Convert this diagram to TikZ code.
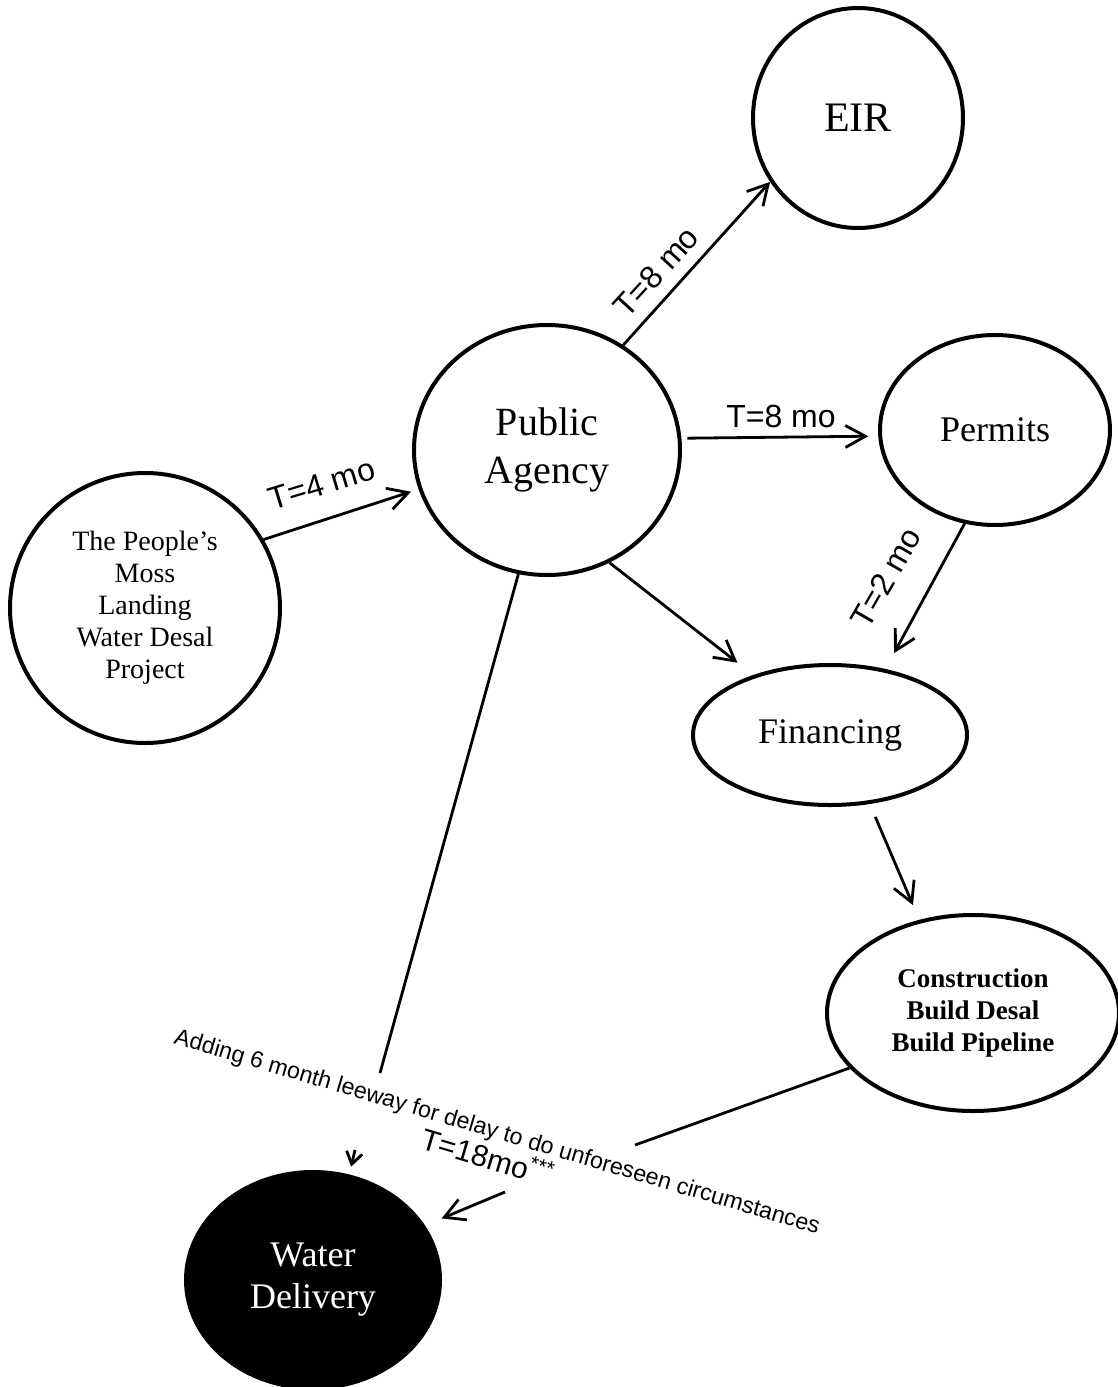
\documentclass[tikz,border=0pt]{standalone}
\usepackage{fontspec}
\setmainfont{Liberation Serif}
\setsansfont{Liberation Sans}
\usetikzlibrary{shapes.geometric,arrows.meta}
\tikzset{
  bubble/.style={ellipse, draw, line width=2pt, inner sep=0pt, align=center},
  arr/.style={line width=1.4pt, -{Straight Barb[length=10pt,width=11pt,line width=1.4pt]}},
  plain/.style={line width=1.4pt},
  lbl/.style={font=\sffamily\fontsize{16}{18}\selectfont, inner sep=1pt},
}
\begin{document}
\begin{tikzpicture}[x=0.5pt,y=-0.5pt]
\useasboundingbox (0,0) rectangle (1118,1387);
\fill[white] (0,0) rectangle (1118,1387);

\node[bubble, minimum width=105pt, minimum height=110pt, font=\fontsize{21}{24}\selectfont] (eir) at (858,118) {EIR};
\node[bubble, minimum width=133pt, minimum height=125pt, font=\fontsize{20}{24}\selectfont] (pa) at (547,450) {Public\\Agency};
\node[bubble, minimum width=115pt, minimum height=95pt, font=\fontsize{18}{21}\selectfont] (perm) at (995,430) {Permits};
\node[bubble, minimum width=135pt, minimum height=135pt, font=\fontsize{14}{16}\selectfont] (ppl) at (145,608) {The People’s\\Moss\\Landing\\Water Desal\\Project};
\node[bubble, minimum width=137pt, minimum height=70pt, font=\fontsize{18}{21}\selectfont] (fin) at (830,735) {Financing};
\node[bubble, minimum width=146pt, minimum height=98pt, font=\bfseries\fontsize{13.5}{16}\selectfont] (con) at (973,1013) {Construction\\Build Desal\\Build Pipeline};
\node[bubble, fill=black, text=white, minimum width=127pt, minimum height=108pt, font=\fontsize{18}{21}\selectfont] (wd) at (313,1280) {Water\\Delivery};

\coordinate (g1) at (380,1073);
\coordinate (g2) at (355,1150);
\coordinate (g4) at (635,1145);
\coordinate (g5) at (505,1192);

\draw[arr, shorten >=4pt] (ppl.30.6) -- (pa.197);
\draw[arr] (pa.54) -- (eir.216.8);
\draw[arr, shorten <=3pt, shorten >=5pt] (pa.5) -- (perm.183.7);
\draw[arr, shorten >=9pt] (perm.252) -- (fin.50);
\draw[arr, shorten >=10pt] (pa.299) -- (fin.142.7);
\draw[arr, shorten <=7pt, shorten >=8pt] (fin.300.2) -- (con.120.3);
\draw[plain] (pa.257.5) -- (g1);
\draw[line width=1.4pt, -{Straight Barb[length=6pt,width=8pt,line width=1.4pt]}, shorten >=4pt] (g2) -- (wd.71);
\draw[plain] (con.204.2) -- (g4);
\draw[arr, shorten >=9pt] (g5) -- (wd.26.4);

\node[lbl, rotate=17] (l1) at (322,484) {T=4 mo};
\node[lbl, rotate=47.6] (l2) at (656,272) {T=8 mo};
\node[lbl] (l3) at (781,416) {T=8 mo};
\node[lbl, rotate=60] (l4) at (886,578) {T=2 mo};
\node[font=\sffamily\fontsize{11.6}{13}\selectfont, rotate=-16.5, inner sep=0pt] (note) at (497,1133) {Adding 6 month leeway for delay to do unforeseen circumstances};
\node[font=\sffamily\fontsize{15}{17}\selectfont, rotate=-16.5, inner sep=0pt] (t18) at (488,1156) {T=18mo\textsuperscript{***}};
\end{tikzpicture}
\end{document}
